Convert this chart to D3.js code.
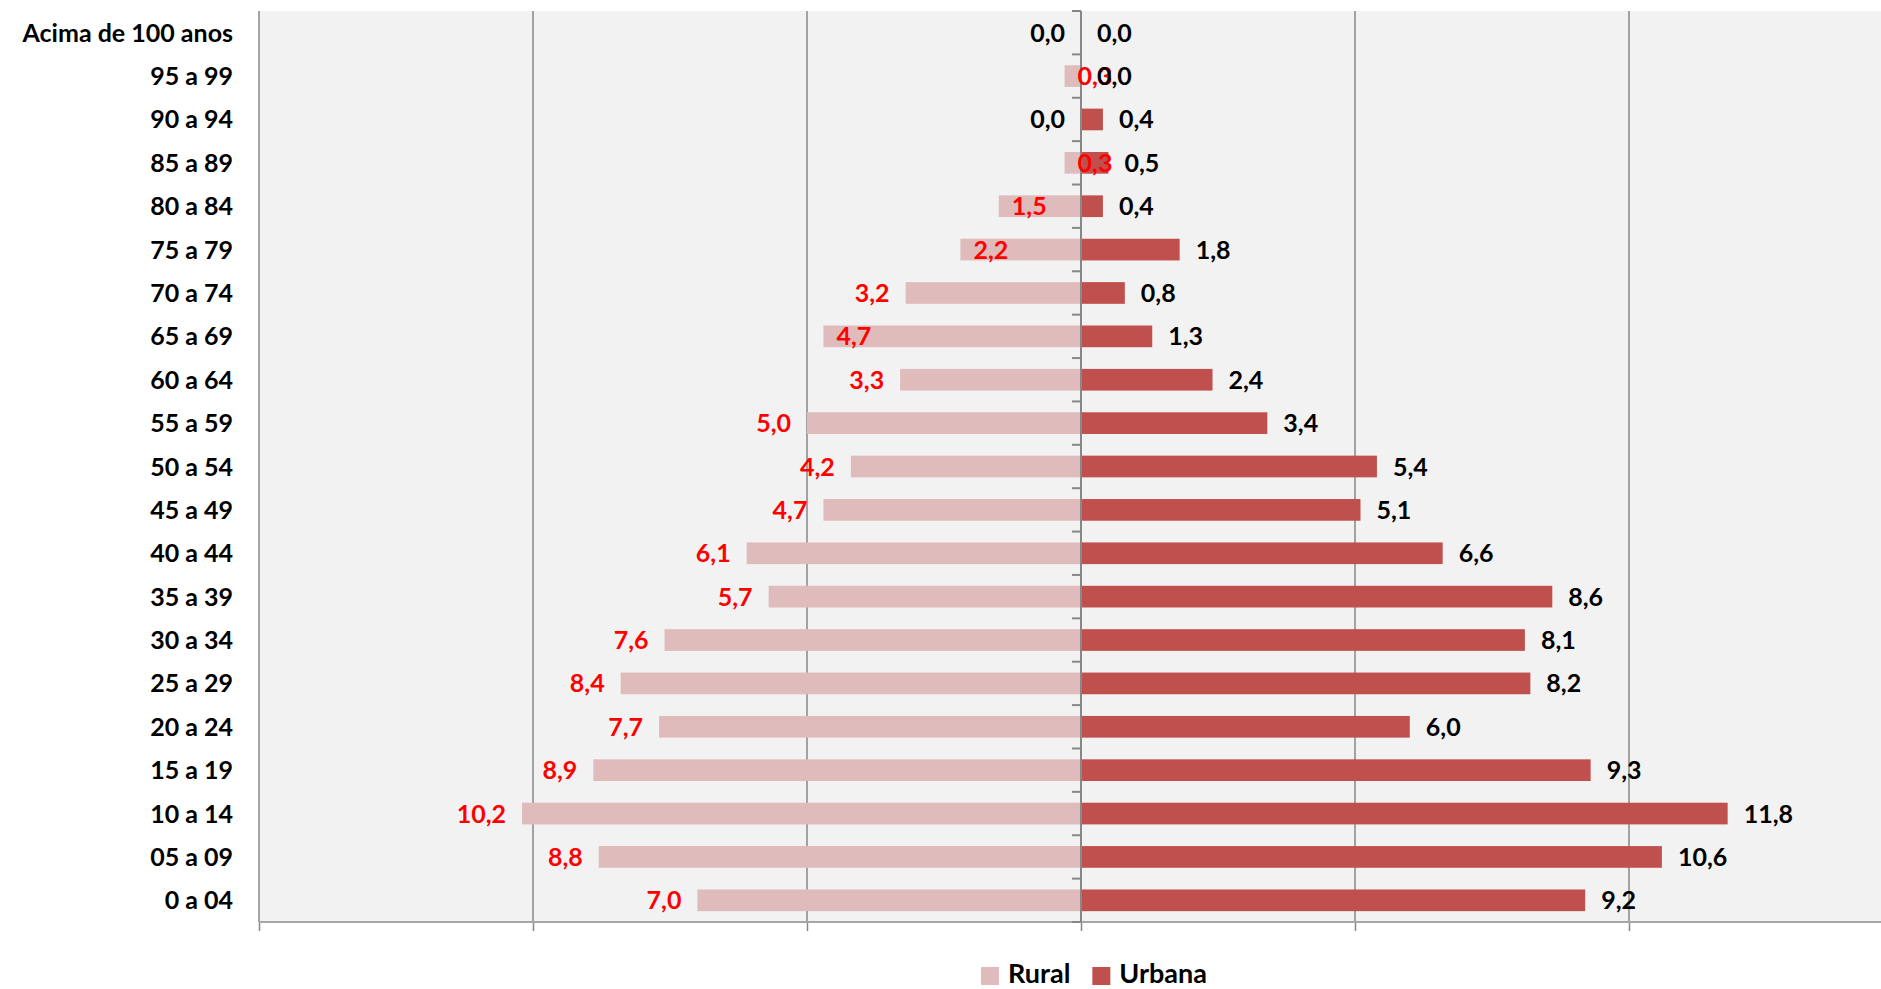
<!DOCTYPE html>
<html>
<head>
<meta charset="utf-8">
<script src="https://cdn.jsdelivr.net/npm/d3@7"></script>
<style>
  body { margin: 0; background: #ffffff; }
  svg { display: block; font-family: Lato, "Open Sans", sans-serif; font-weight: bold; }
</style>
</head>
<body>
<script>
// age groups, top to bottom
var categories = ["Acima de 100 anos", "95 a 99", "90 a 94", "85 a 89", "80 a 84", "75 a 79",
  "70 a 74", "65 a 69", "60 a 64", "55 a 59", "50 a 54", "45 a 49", "40 a 44", "35 a 39",
  "30 a 34", "25 a 29", "20 a 24", "15 a 19", "10 a 14", "05 a 09", "0 a 04"];

// percent of population, rural (drawn to the left) and urbana (to the right)
var rural = [0.0, 0.3, 0.0, 0.3, 1.5, 2.2, 3.2, 4.7, 3.3, 5.0, 4.2, 4.7, 6.1, 5.7, 7.6, 8.4, 7.7, 8.9, 10.2, 8.8, 7.0];
var urbana = [0.0, 0.0, 0.4, 0.5, 0.4, 1.8, 0.8, 1.3, 2.4, 3.4, 5.4, 5.1, 6.6, 8.6, 8.1, 8.2, 6.0, 9.3, 11.8, 10.6, 9.2];

var seriesNames = ["Rural", "Urbana"];
var xTicks = [-15, -10, -5, 0, 5, 10, 15];

// rural labels that sit inside the bar end in the original chart
var ruralLabelsInside = ["95 a 99", "85 a 89", "80 a 84", "75 a 79", "65 a 69"];

(function(){
  var width = 1881,
      height = 989;
  var colors = { Rural: "#e0bbbb", Urbana: "#c0504d" };
  var gridColor = "#878787";

  // plot frame (right part runs past the picture edge, as in the original)
  var plot = { left: 259, top: 11, right: 1903, bottom: 922 };

  var svg = d3.select("body")
    .append("svg")
    .attr("width", width)
    .attr("height", height);

  var x = d3.scaleLinear()
    .domain([-15, 15])
    .range([plot.left, plot.right]);

  var y = d3.scaleBand()
    .domain(categories)
    .range([plot.top, plot.bottom])
    .paddingInner(0.5)
    .paddingOuter(0.25);

  // plot background
  svg.append("rect")
    .attr("x", plot.left)
    .attr("y", plot.top)
    .attr("width", plot.right - plot.left)
    .attr("height", plot.bottom - plot.top)
    .attr("fill", "#f2f2f2");

  // vertical gridlines (not the zero line)
  svg.selectAll(".grid")
    .data(xTicks.filter(function(d){ return d !== 0; }))
    .enter()
    .append("line")
    .attr("class", "grid")
    .attr("x1", function(d){ return x(d); })
    .attr("x2", function(d){ return x(d); })
    .attr("y1", plot.top)
    .attr("y2", plot.bottom)
    .attr("stroke", gridColor)
    .attr("stroke-width", 1.5);

  // bottom value axis, no labels
  var xAxis = d3.axisBottom(x)
    .tickValues(xTicks)
    .tickSize(9)
    .tickFormat("");
  var gx = svg.append("g")
    .attr("transform", "translate(0," + plot.bottom + ")")
    .call(xAxis);
  gx.select(".domain").remove();
  gx.append("line")
    .attr("x1", plot.left)
    .attr("x2", plot.right)
    .attr("stroke", "#a6a6a6")
    .attr("stroke-width", 2);
  gx.selectAll(".tick line").attr("stroke", gridColor).attr("stroke-width", 1.5);

  // rural bars, to the left of zero
  svg.selectAll(".rural")
    .data(categories)
    .enter()
    .append("rect")
    .attr("class", "rural")
    .attr("x", function(d, i){ return x(-rural[i]); })
    .attr("y", function(d){ return y(d); })
    .attr("width", function(d, i){ return x(0) - x(-rural[i]); })
    .attr("height", y.bandwidth())
    .attr("fill", colors.Rural);

  // urbana bars, to the right of zero
  svg.selectAll(".urbana")
    .data(categories)
    .enter()
    .append("rect")
    .attr("class", "urbana")
    .attr("x", x(0))
    .attr("y", function(d){ return y(d); })
    .attr("width", function(d, i){ return x(urbana[i]) - x(0); })
    .attr("height", y.bandwidth())
    .attr("fill", colors.Urbana);

  // category axis on the zero line, ticks pointing left
  var bandEdges = categories.map(function(d){ return y(d) - y.step() * 0.25; });
  bandEdges.push(plot.bottom);
  svg.append("line")
    .attr("x1", x(0)).attr("x2", x(0))
    .attr("y1", plot.top).attr("y2", plot.bottom)
    .attr("stroke", gridColor)
    .attr("stroke-width", 2);
  svg.selectAll(".ytick")
    .data(bandEdges)
    .enter()
    .append("line")
    .attr("class", "ytick")
    .attr("x1", x(0) - 9).attr("x2", x(0))
    .attr("y1", function(d){ return d; })
    .attr("y2", function(d){ return d; })
    .attr("stroke", gridColor)
    .attr("stroke-width", 2);

  // category labels at the left of the plot
  svg.selectAll(".cat")
    .data(categories)
    .enter()
    .append("text")
    .attr("class", "cat")
    .attr("x", 233)
    .attr("y", function(d){ return y(d) + y.bandwidth() / 2; })
    .attr("dy", "0.36em")
    .attr("text-anchor", "end")
    .attr("font-size", 25)
    .attr("fill", "#000")
    .text(function(d){ return d; });

  var fmt = function(v){ return v.toFixed(1).replace(".", ","); };

  // rural value labels (red, zeros stay black)
  svg.selectAll(".rlab")
    .data(categories)
    .enter()
    .append("text")
    .attr("class", "rlab")
    .attr("x", function(d, i){
      var inside = ruralLabelsInside.indexOf(d) >= 0;
      return inside ? x(-rural[i]) + 13 : x(-rural[i]) - 16;
    })
    .attr("y", function(d){ return y(d) + y.bandwidth() / 2; })
    .attr("dy", "0.36em")
    .attr("text-anchor", function(d){
      return ruralLabelsInside.indexOf(d) >= 0 ? "start" : "end";
    })
    .attr("font-size", 25)
    .attr("fill", function(d, i){ return rural[i] === 0 ? "#000" : "#ff0000"; })
    .text(function(d, i){ return fmt(rural[i]); });

  // urbana value labels (black)
  svg.selectAll(".ulab")
    .data(categories)
    .enter()
    .append("text")
    .attr("class", "ulab")
    .attr("x", function(d, i){ return x(urbana[i]) + 16; })
    .attr("y", function(d){ return y(d) + y.bandwidth() / 2; })
    .attr("dy", "0.36em")
    .attr("text-anchor", "start")
    .attr("font-size", 25)
    .attr("fill", "#000")
    .text(function(d, i){ return fmt(urbana[i]); });

  // legend
  var legend = svg.append("g")
    .attr("transform", "translate(981,967)");
  var lx = 0;
  seriesNames.forEach(function(name){
    var item = legend.append("g").attr("transform", "translate(" + lx + ",0)");
    item.append("rect")
      .attr("width", 18)
      .attr("height", 18)
      .attr("fill", colors[name]);
    var t = item.append("text")
      .attr("x", 27)
      .attr("y", 16)
      .attr("font-size", 27)
      .attr("fill", "#000")
      .text(name);
    lx += 27 + t.node().getComputedTextLength() + 22;
  });
})();
</script>
</body>
</html>
